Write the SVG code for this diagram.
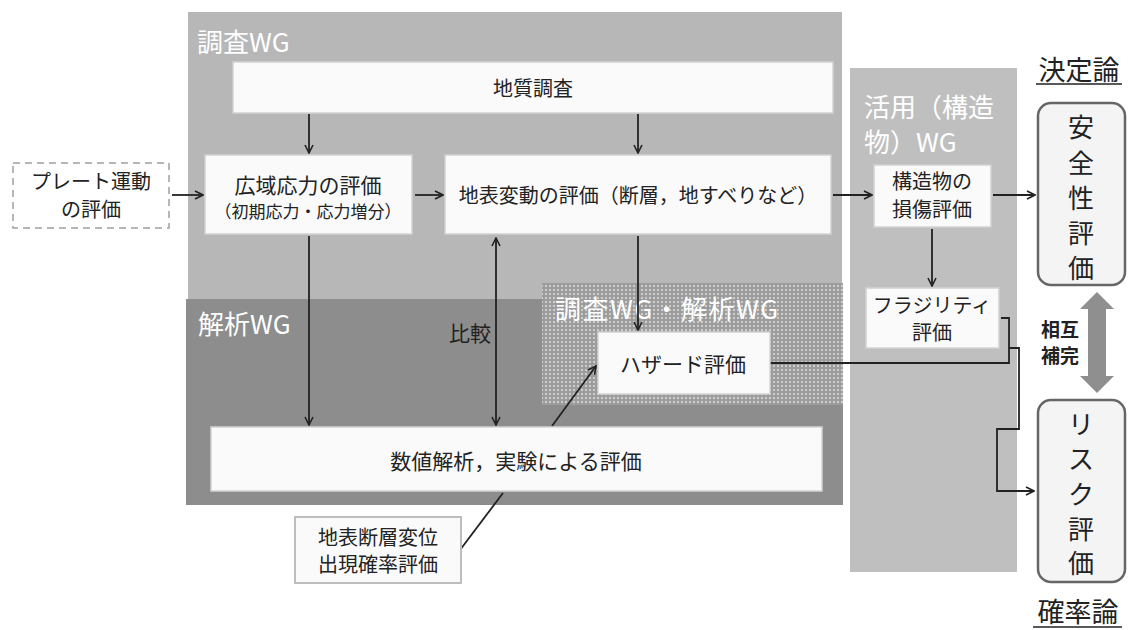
<svg xmlns="http://www.w3.org/2000/svg" width="1128" height="630" viewBox="0 0 1128 630">
<style>
text{font-family:"Noto Sans CJK JP","Noto Sans",sans-serif;fill:#222;}
.lbl{fill:#ffffff;font-size:26px;}
.node{fill:#fafafa;stroke:#d2d2d2;stroke-width:1.5;}
.t20{font-size:20px;text-anchor:middle;}
.t21{font-size:21px;text-anchor:middle;}
.t17{font-size:17px;text-anchor:middle;}
.round{fill:#f4f4f4;stroke:#666;stroke-width:2.5;}
.big{font-size:26px;text-anchor:middle;}
.ln{fill:none;stroke:#222;stroke-width:1.8;}
.bold{font-size:19px;font-weight:bold;}
</style>
<defs>
<marker id="ah" viewBox="0 0 10 10" refX="9" refY="5" markerWidth="10" markerHeight="10" markerUnits="userSpaceOnUse" orient="auto-start-reverse">
<path d="M1,1 L9,5 L1,9" fill="none" stroke="#222" stroke-width="1.6"/>
</marker>
<pattern id="dots" width="4" height="4" patternUnits="userSpaceOnUse">
<rect width="4" height="4" fill="#9a9a9a"/>
<circle cx="2" cy="2" r="1.2" fill="#cdcdcd"/>
</pattern>
</defs>

<g id="panels">
<rect id="chousa-wg" x="188" y="12" width="654" height="290" fill="#b7b7b7"/>
<rect id="katsuyo-wg" x="850" y="68" width="167" height="504" fill="#bfbfbf"/>
<rect id="kaiseki-wg" x="186" y="299" width="657" height="206" fill="#8d8d8d"/>
<rect id="joint-wg" x="542" y="283" width="301" height="122" fill="url(#dots)"/>
<text class="lbl" x="197" y="52">調査WG</text>
<text class="lbl" x="864" y="117">活用（構造</text>
<text class="lbl" x="864" y="152">物）WG</text>
<text class="lbl" x="198" y="334">解析WG</text>
<text class="lbl" x="555" y="319" style="letter-spacing:1.5px;">調査WG・解析WG</text>
</g>

<g id="connectors">
<line class="ln" x1="309" y1="114" x2="309" y2="153" marker-end="url(#ah)"/>
<line class="ln" x1="638" y1="114" x2="638" y2="153" marker-end="url(#ah)"/>
<line class="ln" x1="172" y1="195" x2="203" y2="195" marker-end="url(#ah)"/>
<line class="ln" x1="415" y1="195" x2="443" y2="195" marker-end="url(#ah)"/>
<line class="ln" x1="833" y1="195" x2="872" y2="195" marker-end="url(#ah)"/>
<line class="ln" x1="993" y1="195" x2="1035" y2="195" marker-end="url(#ah)"/>
<line class="ln" x1="932" y1="229" x2="932" y2="286" marker-end="url(#ah)"/>
<line class="ln" x1="309" y1="236" x2="309" y2="425" marker-end="url(#ah)"/>
<line class="ln" x1="496" y1="238" x2="496" y2="425" marker-start="url(#ah)" marker-end="url(#ah)"/>
<line class="ln" x1="638" y1="236" x2="638" y2="330" marker-end="url(#ah)"/>
<line class="ln" x1="552" y1="426" x2="596" y2="366" marker-end="url(#ah)"/>
<line class="ln" x1="460" y1="550" x2="503" y2="493"/>
<polyline class="ln" points="770,363 1009,363 1009,318 1001,318"/>
<polyline class="ln" points="1009,348 1019,348 1019,429 997,429 997,491 1034,491" marker-end="url(#ah)"/>
<polygon id="mutual-arrow" points="1097,292 1114,309 1106,309 1106,376 1114,376 1097,393 1080,376 1088,376 1088,309 1080,309" fill="#8f8f8f"/>
<text class="bold" x="1041" y="337">相互</text>
<text class="bold" x="1041" y="363">補完</text>
<text x="470" y="341" class="t21">比較</text>
</g>

<g id="n-plate">
<rect x="13" y="163" width="156" height="65" fill="#fff" stroke="#a0a0a0" stroke-width="1.5" stroke-dasharray="7,5"/>
<text class="t20" x="91" y="189">プレート運動</text>
<text class="t20" x="91" y="217">の評価</text>
</g>
<g id="n-geology">
<rect class="node" x="233" y="62" width="600" height="51"/>
<text class="t20" x="533" y="96">地質調査</text>
</g>
<g id="n-stress">
<rect class="node" x="205" y="155" width="207" height="79"/>
<text class="t21" x="308" y="193">広域応力の評価</text>
<text class="t17" x="308" y="218">（初期応力・応力増分）</text>
</g>
<g id="n-surface">
<rect class="node" x="445" y="155" width="386" height="79"/>
<text class="t20" x="638" y="203">地表変動の評価（断層，地すべりなど）</text>
</g>
<g id="n-damage">
<rect class="node" x="874" y="165" width="117" height="62"/>
<text class="t20" x="932" y="189">構造物の</text>
<text class="t20" x="932" y="217">損傷評価</text>
</g>
<g id="n-fragility">
<rect class="node" x="866" y="288" width="133" height="60"/>
<text class="t20" x="932" y="313">フラジリティ</text>
<text class="t20" x="932" y="340">評価</text>
</g>
<g id="n-hazard">
<rect class="node" x="598" y="332" width="172" height="62"/>
<text class="t21" x="683" y="372">ハザード評価</text>
</g>
<g id="n-numerical">
<rect class="node" x="211" y="427" width="611" height="64"/>
<text class="t21" x="516" y="469">数値解析，実験による評価</text>
</g>
<g id="n-probability">
<rect x="295" y="517" width="166" height="66" fill="#fafafa" stroke="#bdbdbd" stroke-width="2"/>
<text class="t20" x="378" y="545">地表断層変位</text>
<text class="t20" x="378" y="572">出現確率評価</text>
</g>
<g id="n-safety">
<text x="1079" y="80" style="font-size:27px;text-anchor:middle;">決定論</text>
<line x1="1036" y1="84" x2="1122" y2="84" stroke="#222" stroke-width="1.5"/>
<rect class="round" x="1038" y="103" width="87" height="182" rx="13"/>
<text class="big" x="1081" y="137">安</text>
<text class="big" x="1081" y="173">全</text>
<text class="big" x="1081" y="208">性</text>
<text class="big" x="1081" y="243">評</text>
<text class="big" x="1081" y="278">価</text>
</g>
<g id="n-risk">
<rect class="round" x="1038" y="400" width="87" height="182" rx="13"/>
<text class="big" x="1081" y="434">リ</text>
<text class="big" x="1081" y="469">ス</text>
<text class="big" x="1081" y="504">ク</text>
<text class="big" x="1081" y="539">評</text>
<text class="big" x="1081" y="573">価</text>
<text x="1078" y="622" style="font-size:27px;text-anchor:middle;">確率論</text>
<line x1="1033" y1="627" x2="1122" y2="627" stroke="#222" stroke-width="1.5"/>
</g>
</svg>
